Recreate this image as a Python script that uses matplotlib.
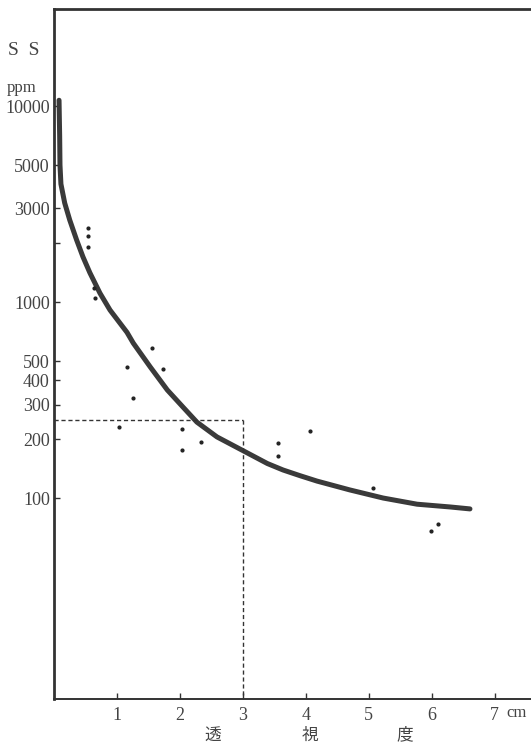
import matplotlib.pyplot as plt
from matplotlib.ticker import FixedLocator, NullLocator

plt.rcParams['font.family'] = ['Liberation Serif', 'Noto Sans CJK JP']

# fitted curve (transparency cm vs SS ppm)
curve_x = [0.08, 0.09, 0.095, 0.11, 0.17, 0.25, 0.36, 0.46, 0.57, 0.73, 0.89,
           1.16, 1.26, 1.53, 1.80, 2.05, 2.27, 2.59, 3.04, 3.39, 3.64, 3.91,
           4.18, 4.70, 5.23, 5.77, 6.30, 6.61]
curve_ss = [10700, 7000, 5000, 4000, 3200, 2620, 2070, 1700, 1410, 1110, 910,
            700, 617, 466, 356, 291, 244, 205, 172, 150, 139, 130,
            122, 110, 100, 93, 90, 88]

# measured points
pts_x = [0.54, 0.54, 0.54, 0.64, 0.65, 1.16, 1.26, 1.56, 1.73, 1.03, 2.03,
         2.03, 2.34, 3.56, 3.56, 4.07, 5.07, 6.10, 5.99]
pts_ss = [2390, 2170, 1910, 1180, 1050, 466, 324, 582, 455, 230, 225,
          176, 193, 191, 164, 220, 112, 74, 68]

ref_x = 3
ref_ss = 250

yticks = [100, 200, 300, 400, 500, 1000, 2000, 3000, 5000, 10000]
ylabels = ['100', '200', '300', '400', '500', '1000', '', '3000', '5000', '10000']
xticks = [1, 2, 3, 4, 5, 6, 7]

fig = plt.figure(figsize=(5.31, 7.45), dpi=100)
ax = fig.add_axes([0.1017, 0.0617, 0.8983, 0.9262])

ax.plot(curve_x, curve_ss, color='#3a3a3a', lw=3.6,
        solid_capstyle='round', solid_joinstyle='round')
ax.scatter(pts_x, pts_ss, s=4, color='#222222', zorder=3)
ax.plot([0, ref_x], [ref_ss, ref_ss], color='#333333', lw=1.0, ls=(0, (3, 2)))
ax.plot([ref_x, ref_x], [ref_ss, 9.43], color='#333333', lw=1.0, ls=(0, (3, 2)))

ax.set_yscale('log')
ax.set_ylim(9.43, 31250)
ax.set_xlim(0, 7.58)

ax.yaxis.set_major_locator(FixedLocator(yticks))
ax.yaxis.set_minor_locator(NullLocator())
ax.set_yticklabels(ylabels)
ax.set_xticks(xticks)
ax.set_xticklabels([str(v) for v in xticks])

ax.tick_params(direction='in', length=4, width=1, colors='#333333',
               labelcolor='#444444', labelsize=13)
ax.tick_params(axis='y', pad=3)
ax.tick_params(axis='x', pad=6)

ax.spines['right'].set_visible(False)
ax.spines['left'].set_linewidth(2.0)
ax.spines['top'].set_linewidth(2.0)
ax.spines['bottom'].set_linewidth(1.4)
for s in ax.spines.values():
    s.set_color('#333333')

fig.text(0.015, 0.932, 'S  S', fontsize=14, color='#444444', va='center')
fig.text(0.013, 0.882, 'ppm', fontsize=12, color='#444444', va='center')
fig.text(0.953, 0.043, 'cm', fontsize=12, color='#444444', va='center')
for xc, ch in zip([213, 310, 405], ['透', '視', '度']):
    fig.text(xc / 531, 1 - 735 / 745, ch, fontsize=12, color='#444444',
             ha='center', va='center', family=['Noto Sans CJK JP'])

fig.savefig('out.png', dpi=100)
